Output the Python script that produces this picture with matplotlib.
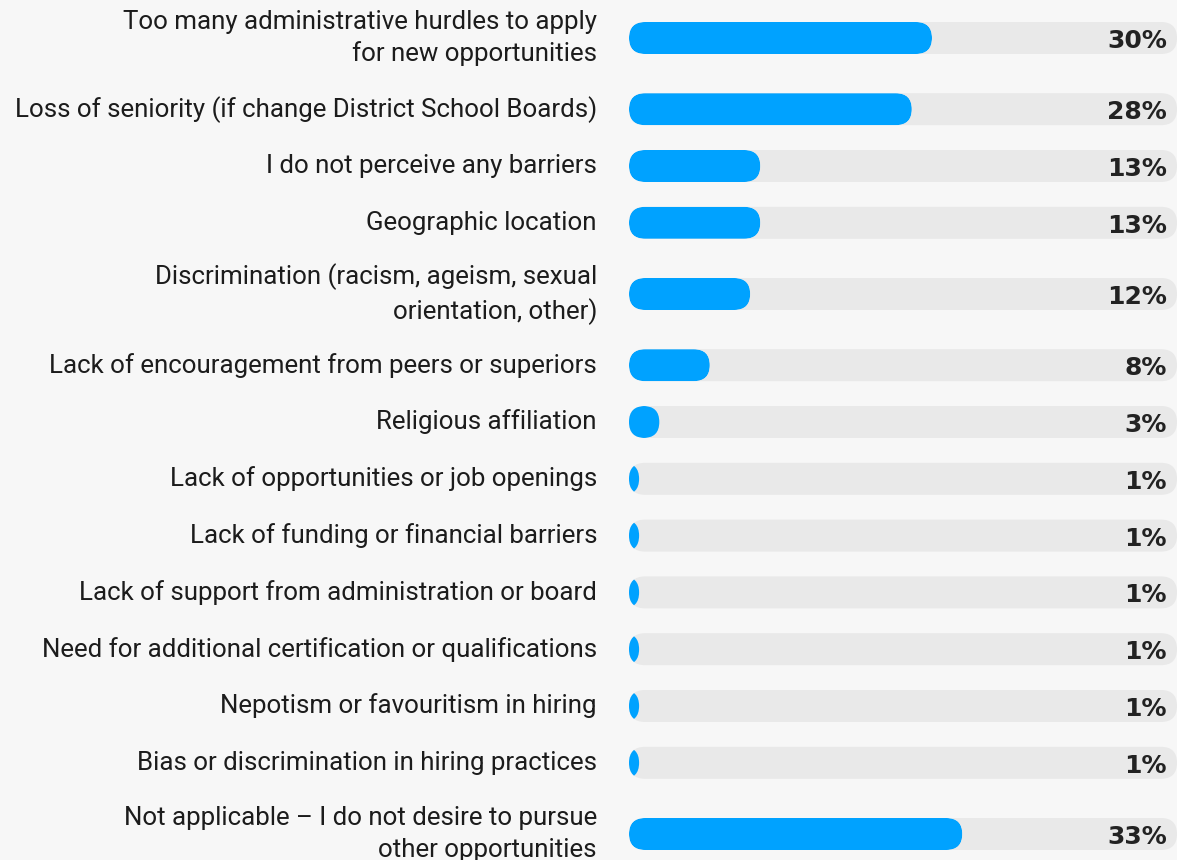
import matplotlib
matplotlib.use("Agg")
import matplotlib.pyplot as plt
from matplotlib.patches import FancyBboxPatch

BG = "#f7f7f7"
TRACK = "#e9e9e9"
BLUE = "#00a2ff"
TEXT = "#1c1c1c"

labels = [
    "Too many administrative hurdles to apply\nfor new opportunities",
    "Loss of seniority (if change District School Boards)",
    "I do not perceive any barriers",
    "Geographic location",
    "Discrimination (racism, ageism, sexual\norientation, other)",
    "Lack of encouragement from peers or superiors",
    "Religious affiliation",
    "Lack of opportunities or job openings",
    "Lack of funding or financial barriers",
    "Lack of support from administration or board",
    "Need for additional certification or qualifications",
    "Nepotism or favouritism in hiring",
    "Bias or discrimination in hiring practices",
    "Not applicable \u2013 I do not desire to pursue\nother opportunities",
]
values = [30, 28, 13, 13, 12, 8, 3, 1, 1, 1, 1, 1, 1, 33]

W, H, DPI = 1177, 860, 100
fig = plt.figure(figsize=(W / DPI, H / DPI), dpi=DPI, facecolor=BG)

# bar area: from x=629 px to right edge, y axis in pixels (top down)
left_px = 629
ax = fig.add_axes([left_px / W, 0, 1 - left_px / W, 1])
ax.set_facecolor(BG)
ax.axis("off")
px_per_pct = 10.1
xmax = (W - left_px) / px_per_pct
ax.set_xlim(0, xmax)
ax.set_ylim(H, 0)

# row layout: two-line rows take more room
half = [42.8 if "\n" in l else 28.4 for l in labels]
ys = [38.0]
for i in range(1, len(labels)):
    ys.append(ys[-1] + half[i - 1] + half[i])

bar_h = 32
r_y = bar_h / 2
r_x = r_y / px_per_pct


def rounded(x0, w, y, color, z):
    return FancyBboxPatch((x0, y - bar_h / 2), w, bar_h,
                          boxstyle=f"round,pad=0,rounding_size={r_x}",
                          mutation_aspect=px_per_pct,
                          facecolor=color, edgecolor="none", zorder=z)


for lab, v, y in zip(labels, values, ys):
    ax.add_patch(rounded(0, xmax, y, TRACK, 1))
    # small values: intersect two capsules -> lens shape
    w_full = max(v, 2 * r_x)
    bar = rounded(0, w_full, y, BLUE, 2)
    clip = rounded(v - w_full, w_full, y, BLUE, 2)
    clip.set_transform(ax.transData)
    ax.add_patch(bar)
    bar.set_clip_path(clip)

    ax.annotate(lab, xy=(0, y), xytext=(-32, 0), textcoords="offset pixels",
                ha="right", va="center", multialignment="right",
                fontsize=18.6, family="Roboto", color=TEXT,
                linespacing=1.38, annotation_clip=False)
    ax.annotate(f"{v}%", xy=(1, y), xycoords=ax.get_yaxis_transform(),
                xytext=(-10, -3), textcoords="offset pixels",
                ha="right", va="center", fontsize=18, family="DejaVu Sans",
                fontweight="bold", color="#222222", annotation_clip=False)

fig.savefig("out.png", dpi=DPI, facecolor=BG)
